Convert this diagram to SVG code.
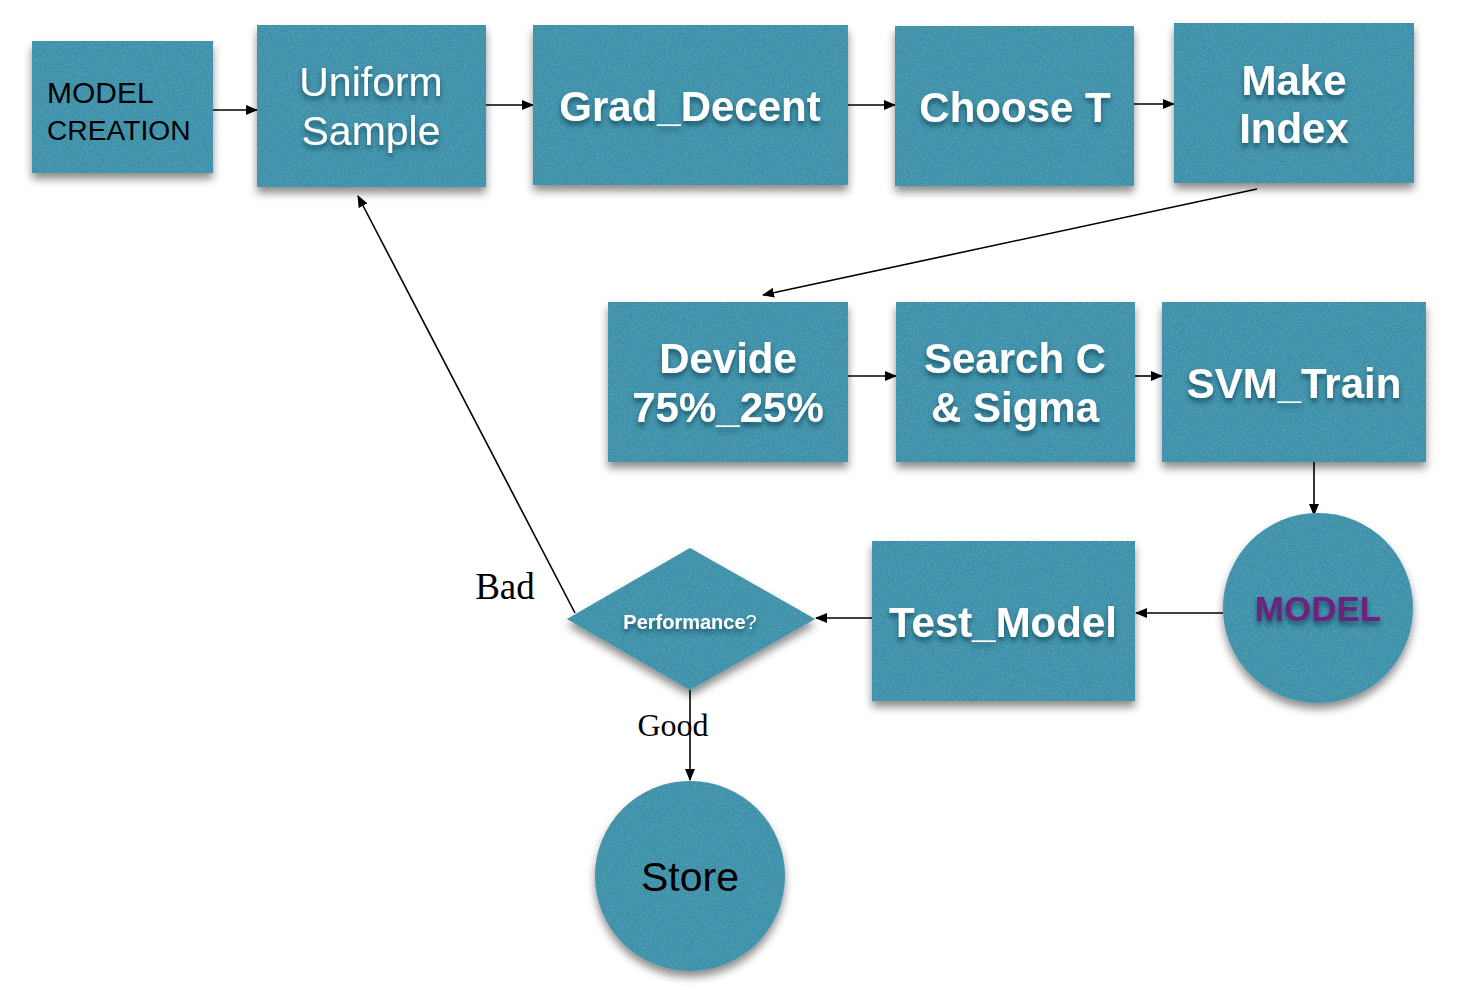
<svg xmlns="http://www.w3.org/2000/svg" width="1464" height="990" viewBox="0 0 1464 990">
<defs>
<style>
.nd{fill:#3a8fa9;filter:url(#tex)}
.wt{font-family:"Liberation Sans",Arial,sans-serif;font-weight:bold;font-size:42px;fill:#ffffff;text-anchor:middle;filter:url(#ts)}
.wr{font-family:"Liberation Sans",Arial,sans-serif;font-size:41px;fill:#ffffff;text-anchor:middle;filter:url(#ts)}
.bk{font-family:"Liberation Sans",Arial,sans-serif;fill:#000000}
.lb{font-family:"Liberation Serif","Times New Roman",serif;fill:#000000}
.cn{stroke:#000;stroke-width:1.6;fill:none;marker-end:url(#ah)}
</style>
<marker id="ah" markerUnits="userSpaceOnUse" markerWidth="12" markerHeight="10" refX="11" refY="5" orient="auto">
<path d="M0,0 L12,5 L0,10 z" fill="#000"/>
</marker>
<filter id="tex" x="-10%" y="-10%" width="125%" height="130%">
<feTurbulence type="fractalNoise" baseFrequency="0.7" numOctaves="2" seed="4" result="n"/>
<feColorMatrix in="n" type="matrix" values="0 0 0 0 0.1  0 0 0 0 0.36  0 0 0 0 0.46  0 0 0 2.2 -0.85" result="nc"/>
<feComposite in="nc" in2="SourceAlpha" operator="in" result="tx"/>
<feGaussianBlur in="SourceAlpha" stdDeviation="4" result="b"/>
<feOffset in="b" dx="0" dy="6" result="ob"/>
<feFlood flood-color="#000" flood-opacity="0.45"/>
<feComposite in2="ob" operator="in" result="sh"/>
<feMerge><feMergeNode in="sh"/><feMergeNode in="SourceGraphic"/><feMergeNode in="tx"/></feMerge>
</filter>
<filter id="ts" x="-10%" y="-20%" width="120%" height="150%">
<feGaussianBlur in="SourceAlpha" stdDeviation="2.5" result="b"/>
<feOffset in="b" dx="0" dy="4" result="ob"/>
<feFlood flood-color="#0a3040" flood-opacity="0.6"/>
<feComposite in2="ob" operator="in" result="sh"/>
<feMerge><feMergeNode in="sh"/><feMergeNode in="SourceGraphic"/></feMerge>
</filter>
</defs>
<rect width="1464" height="990" fill="#ffffff"/>

<g id="connectors">
<line class="cn" x1="213" y1="110" x2="257" y2="110"/>
<line class="cn" x1="486" y1="105" x2="533" y2="105"/>
<line class="cn" x1="848" y1="105" x2="895" y2="105"/>
<line class="cn" x1="1134" y1="104" x2="1174" y2="104"/>
<line class="cn" x1="1257" y1="189" x2="763" y2="295"/>
<line class="cn" x1="848" y1="376" x2="896" y2="376"/>
<line class="cn" x1="1135" y1="376" x2="1162" y2="376"/>
<line class="cn" x1="1314" y1="462" x2="1314" y2="515"/>
<line class="cn" x1="1223" y1="613" x2="1136" y2="613"/>
<line class="cn" x1="872" y1="618" x2="816" y2="618"/>
<line class="cn" x1="575" y1="613" x2="358" y2="196"/>
<line class="cn" x1="690" y1="690" x2="690" y2="780"/>
<text class="lb" x="505" y="599" font-size="37" text-anchor="middle">Bad</text>
<text class="lb" x="673" y="736" font-size="32" text-anchor="middle">Good</text>
</g>

<g id="model-creation">
<rect class="nd" x="32" y="41" width="181" height="132"/>
<text class="bk" x="47" y="103" font-size="30">MODEL</text>
<text class="bk" x="47" y="140" font-size="28.2">CREATION</text>
</g>

<g id="uniform-sample">
<rect class="nd" x="257" y="25" width="229" height="162"/>
<text class="wr" x="371" y="96">Uniform</text>
<text class="wr" x="371" y="145">Sample</text>
</g>

<g id="grad-decent">
<rect class="nd" x="533" y="25" width="315" height="160"/>
<text class="wt" x="690" y="121">Grad_Decent</text>
</g>

<g id="choose-t">
<rect class="nd" x="895" y="26" width="239" height="160"/>
<text class="wt" x="1015" y="122">Choose T</text>
</g>

<g id="make-index">
<rect class="nd" x="1174" y="23" width="240" height="160"/>
<text class="wt" x="1294" y="95">Make</text>
<text class="wt" x="1294" y="143">Index</text>
</g>

<g id="devide">
<rect class="nd" x="608" y="302" width="240" height="160"/>
<text class="wt" x="728" y="373">Devide</text>
<text class="wt" x="728" y="422">75%_25%</text>
</g>

<g id="search-c-sigma">
<rect class="nd" x="896" y="302" width="239" height="160"/>
<text class="wt" x="1015" y="373">Search C</text>
<text class="wt" x="1015" y="422">&amp; Sigma</text>
</g>

<g id="svm-train">
<rect class="nd" x="1162" y="302" width="264" height="160"/>
<text class="wt" x="1294" y="398">SVM_Train</text>
</g>

<g id="model">
<circle class="nd" cx="1318" cy="608" r="95"/>
<text x="1318" y="621" font-family="'Liberation Sans',Arial,sans-serif" font-weight="bold" font-size="35" fill="#6e2080" text-anchor="middle" filter="url(#ts)">MODEL</text>
</g>

<g id="test-model">
<rect class="nd" x="872" y="541" width="263" height="160"/>
<text class="wt" x="1003" y="637">Test_Model</text>
</g>

<g id="performance">
<polygon class="nd" points="690,548 815,619 690,690 567,619"/>
<text x="690" y="629" font-family="'Liberation Sans',Arial,sans-serif" font-size="20" fill="#ffffff" text-anchor="middle" filter="url(#ts)"><tspan font-weight="bold">Performance</tspan>?</text>
</g>

<g id="store">
<circle class="nd" cx="690" cy="876" r="95"/>
<text class="bk" x="690" y="891" font-size="41" text-anchor="middle">Store</text>
</g>
</svg>
